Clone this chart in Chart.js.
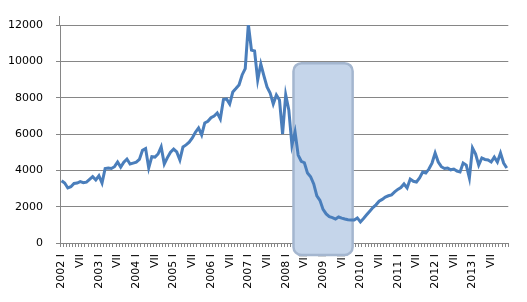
<!DOCTYPE html>
<html>
<head>
<meta charset="utf-8">
<script src="https://cdn.jsdelivr.net/npm/chart.js@4/dist/chart.umd.min.js"></script>
<style>
  html, body { margin:0; padding:0; background:#fff; }
  #wrap { width:527px; height:302px; }
</style>
</head>
<body>
<div id="wrap"><canvas id="chart" width="527" height="302"></canvas></div>
<script>
// monthly series, 2002 I .. 2013 XII
const years = [2002, 2003, 2004, 2005, 2006, 2007, 2008, 2009, 2010, 2011, 2012, 2013];
const romanMonths = ['I','II','III','IV','V','VI','VII','VIII','IX','X','XI','XII'];
const values = [
  3430, 3300, 3030, 3100, 3280, 3300, 3380, 3320, 3350, 3500, 3650, 3470,
  3700, 3300, 4100, 4130, 4100, 4200, 4460, 4180, 4450, 4620, 4350, 4400,
  4450, 4600, 5100, 5200, 4130, 4750, 4730, 4900, 5290, 4350, 4700, 5000,
  5170, 5010, 4570, 5290, 5400, 5550, 5780, 6100, 6330, 5950, 6610, 6700,
  6900, 6990, 7160, 6830, 7900, 7930, 7650, 8310, 8500, 8700, 9250, 9600,
  12040, 10620, 10570, 8970, 9850, 9200, 8590, 8260, 7650, 8150, 7870, 6000,
  8150, 7320, 5390, 6110, 4840, 4500, 4420, 3850, 3650, 3250, 2600, 2350,
  1850, 1600, 1450, 1400, 1320, 1430, 1370, 1320, 1280, 1270, 1270, 1380,
  1160, 1350, 1550, 1750, 1950, 2100, 2300, 2400, 2530, 2600, 2650, 2810,
  2950, 3050, 3250, 3030, 3520, 3400, 3360, 3580, 3900, 3850, 4070, 4400,
  4950, 4460, 4200, 4100, 4130, 4030, 4070, 3960, 3910, 4400, 4290, 3580,
  5230, 4900, 4290, 4680, 4600, 4570, 4460, 4730, 4460, 4950, 4400, 4130
];
// highlighted period (category index range) and its top value
const highlightRange = [74.5, 93.5];
const highlightTop = 9900;

const labels = [];
years.forEach(y => romanMonths.forEach(m => labels.push(y + ' ' + m)));

const highlightBox = {
  id: 'highlightBox',
  beforeDatasetsDraw(chart) {
    const { ctx, scales: { x, y }, chartArea } = chart;
    // y axis line runs a little above the top gridline
    ctx.save();
    ctx.fillStyle = '#868686';
    ctx.fillRect(Math.round(chartArea.left) - 1, chartArea.top - 9, 1, 9);
    const x0 = x.getPixelForValue(highlightRange[0]);
    const x1 = x.getPixelForValue(highlightRange[1]);
    const y0 = y.getPixelForValue(highlightTop);
    const y1 = chartArea.bottom + 12;
    ctx.beginPath();
    ctx.roundRect(x0, y0, x1 - x0, y1 - y0, 8);
    ctx.fillStyle = '#c5d5ea';
    ctx.fill();
    ctx.lineWidth = 2.5;
    ctx.strokeStyle = '#a4b6cf';
    ctx.stroke();
    ctx.restore();
  }
};

const ctx = document.getElementById('chart').getContext('2d');
new Chart(ctx, {
  type: 'line',
  data: {
    labels: labels,
    datasets: [{
      data: values,
      borderColor: '#4a7ebb',
      borderWidth: 3,
      pointRadius: 0,
      tension: 0,
      fill: false
    }]
  },
  options: {
    responsive: false,
    animation: false,
    layout: { padding: { top: 25, right: 17, left: 0, bottom: 0 } },
    plugins: { legend: { display: false }, tooltip: { enabled: false } },
    scales: {
      x: {
        offset: true,
        afterFit: s => { s.height = 59; },
        grid: { drawOnChartArea: false, offset: true, color: '#868686', tickLength: 4 },
        border: { color: '#868686' },
        ticks: {
          autoSkip: false,
          minRotation: 90,
          maxRotation: 90,
          color: '#000',
          padding: 7,
          font: { family: 'DejaVu Sans', size: 11 },
          callback: function(v, i) {
            const m = i % 12;
            if (m === 0) return years[i / 12] + ' I';
            if (m === 6) return 'VII';
            return '';
          }
        }
      },
      y: {
        min: 0,
        max: 12000,
        afterFit: s => { s.width = 60; },
        grid: { color: '#868686', tickLength: 4 },
        border: { color: '#868686' },
        ticks: {
          stepSize: 2000,
          color: '#000',
          padding: 13,
          font: { family: 'DejaVu Sans', size: 11 },
          callback: v => String(v)
        }
      }
    }
  },
  plugins: [highlightBox]
});
</script>
</body>
</html>
